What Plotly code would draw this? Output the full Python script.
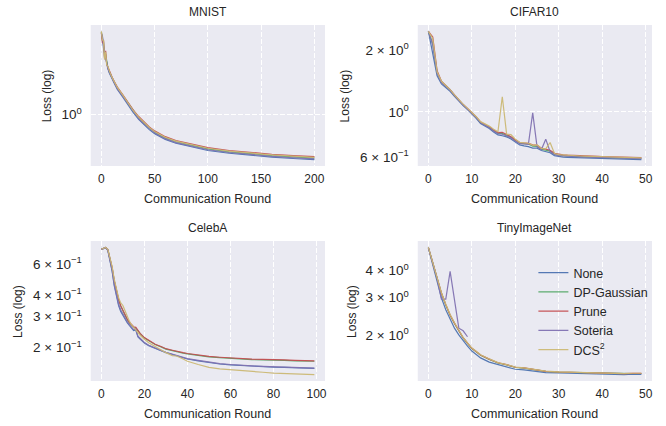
import math
import plotly.graph_objects as go

# ---------------- data ----------------
methods = ["None", "DP-Gaussian", "Prune", "Soteria", "DCS<sup>2</sup>"]
colors = ["#4C72B0", "#55A868", "#C44E52", "#8172B2", "#CCB974"]

# MNIST
mnist_x = [0, 1, 2, 3, 4, 5, 6, 7, 8, 10, 12, 15, 20, 25, 30, 35, 40, 45, 50, 55, 60, 70, 80, 90, 100, 120, 140, 160, 180, 200]
mnist_none = [2.25, 2.20, 1.95, 1.85, 1.75, 1.70, 1.58, 1.54, 1.50, 1.43, 1.37, 1.29, 1.195, 1.10, 1.02, 0.955, 0.904, 0.861, 0.827, 0.801, 0.780, 0.751, 0.732, 0.713, 0.698, 0.679, 0.664, 0.653, 0.644, 0.637]
mnist_dp = [2.30, 2.10, 2.08, 1.78, 1.84, 1.69, 1.61, 1.56, 1.52, 1.45, 1.39, 1.31, 1.215, 1.12, 1.035, 0.97, 0.918, 0.874, 0.840, 0.813, 0.792, 0.762, 0.743, 0.724, 0.709, 0.689, 0.674, 0.663, 0.654, 0.647]
mnist_prune = [2.28, 2.05, 2.12, 1.76, 1.90, 1.66, 1.62, 1.57, 1.53, 1.46, 1.40, 1.32, 1.225, 1.13, 1.047, 0.982, 0.929, 0.884, 0.850, 0.823, 0.802, 0.772, 0.752, 0.733, 0.718, 0.698, 0.683, 0.672, 0.663, 0.656]
mnist_soteria = [2.27, 2.18, 2.00, 1.88, 1.80, 1.72, 1.59, 1.55, 1.51, 1.44, 1.38, 1.30, 1.205, 1.11, 1.028, 0.962, 0.912, 0.868, 0.834, 0.807, 0.786, 0.756, 0.737, 0.718, 0.703, 0.684, 0.669, 0.658, 0.649, 0.642]
mnist_dcs = [2.31, 2.12, 2.10, 1.74, 1.88, 1.65, 1.63, 1.57, 1.53, 1.455, 1.395, 1.315, 1.22, 1.125, 1.041, 0.976, 0.924, 0.879, 0.845, 0.818, 0.797, 0.767, 0.748, 0.729, 0.714, 0.694, 0.679, 0.668, 0.659, 0.652]

# CIFAR10
cifar_x = list(range(50))
cifar_none = [2.47, 1.95, 1.50, 1.37, 1.32, 1.26, 1.19, 1.125, 1.072, 1.025, 0.978, 0.930, 0.878, 0.855, 0.830, 0.798, 0.772, 0.765, 0.755, 0.738, 0.712, 0.690, 0.682, 0.677, 0.665, 0.665, 0.648, 0.642, 0.632, 0.612, 0.605, 0.602, 0.600, 0.599, 0.598, 0.597, 0.596, 0.595, 0.594, 0.593, 0.593, 0.592, 0.591, 0.590, 0.589, 0.588, 0.587, 0.586, 0.586, 0.585]
cifar_dp = [2.47, 2.15, 1.556, 1.40, 1.338, 1.28, 1.204, 1.137, 1.083, 1.035, 0.989, 0.941, 0.889, 0.866, 0.842, 0.810, 0.786, 0.785, 0.768, 0.752, 0.725, 0.703, 0.700, 0.697, 0.680, 0.678, 0.657, 0.652, 0.643, 0.622, 0.614, 0.611, 0.609, 0.607, 0.606, 0.605, 0.604, 0.603, 0.602, 0.601, 0.600, 0.599, 0.598, 0.597, 0.596, 0.596, 0.595, 0.594, 0.594, 0.593]
cifar_prune = [2.47, 2.32, 1.59, 1.41, 1.345, 1.285, 1.21, 1.14, 1.086, 1.038, 0.992, 0.945, 0.893, 0.870, 0.846, 0.815, 0.792, 0.795, 0.775, 0.757, 0.730, 0.708, 0.705, 0.702, 0.690, 0.688, 0.665, 0.658, 0.650, 0.628, 0.620, 0.617, 0.615, 0.613, 0.611, 0.610, 0.609, 0.608, 0.607, 0.606, 0.605, 0.604, 0.603, 0.602, 0.601, 0.600, 0.600, 0.599, 0.598, 0.598]
cifar_soteria = [2.47, 2.12, 1.54, 1.39, 1.335, 1.275, 1.20, 1.134, 1.080, 1.032, 0.986, 0.938, 0.886, 0.862, 0.838, 0.806, 0.782, 0.778, 0.764, 0.748, 0.720, 0.700, 0.698, 0.695, 0.989, 0.675, 0.655, 0.736, 0.640, 0.620, 0.612, 0.609, 0.607, 0.605, 0.604, 0.603, 0.602, 0.601, 0.600, 0.599, 0.598, 0.597, 0.596, 0.596, 0.595, 0.594, 0.594, 0.593, 0.593, 0.592]
cifar_dcs = [2.47, 2.28, 1.57, 1.41, 1.345, 1.285, 1.21, 1.142, 1.088, 1.04, 0.994, 0.947, 0.896, 0.874, 0.852, 0.822, 0.800, 1.186, 0.779, 0.775, 0.735, 0.710, 0.706, 0.703, 0.688, 0.690, 0.663, 0.660, 0.709, 0.626, 0.619, 0.616, 0.614, 0.612, 0.610, 0.609, 0.608, 0.607, 0.606, 0.605, 0.604, 0.603, 0.602, 0.601, 0.600, 0.599, 0.598, 0.598, 0.597, 0.596]

# CelebA
celeba_x = [0, 1, 2, 3, 4, 5, 6, 7, 8, 9, 10, 11, 12, 13, 14, 15, 16, 17, 18, 20, 22, 25, 28, 30, 33, 35, 38, 40, 45, 50, 55, 60, 65, 70, 75, 80, 85, 90, 95, 99]
celeba_none = [0.728, 0.738, 0.745, 0.720, 0.630, 0.545, 0.450, 0.395, 0.347, 0.322, 0.306, 0.292, 0.278, 0.268, 0.259, 0.250, 0.252, 0.230, 0.224, 0.212, 0.205, 0.197, 0.191, 0.187, 0.182, 0.179, 0.175, 0.172, 0.168, 0.164, 0.161, 0.159, 0.1575, 0.156, 0.155, 0.1545, 0.154, 0.153, 0.1525, 0.152]
celeba_dp = [0.730, 0.740, 0.747, 0.727, 0.648, 0.570, 0.480, 0.423, 0.376, 0.345, 0.323, 0.303, 0.289, 0.277, 0.268, 0.261, 0.259, 0.248, 0.240, 0.227, 0.219, 0.208, 0.201, 0.196, 0.192, 0.189, 0.186, 0.184, 0.180, 0.177, 0.175, 0.173, 0.172, 0.1705, 0.170, 0.170, 0.169, 0.168, 0.168, 0.167]
celeba_prune = [0.730, 0.740, 0.747, 0.727, 0.650, 0.572, 0.482, 0.425, 0.378, 0.347, 0.325, 0.305, 0.291, 0.279, 0.270, 0.263, 0.261, 0.250, 0.241, 0.228, 0.220, 0.209, 0.202, 0.197, 0.193, 0.190, 0.187, 0.185, 0.181, 0.178, 0.176, 0.174, 0.173, 0.1715, 0.171, 0.171, 0.170, 0.169, 0.169, 0.168]
celeba_soteria = [0.729, 0.739, 0.746, 0.722, 0.635, 0.552, 0.458, 0.402, 0.355, 0.328, 0.310, 0.295, 0.281, 0.270, 0.261, 0.253, 0.255, 0.232, 0.226, 0.214, 0.206, 0.198, 0.192, 0.188, 0.183, 0.180, 0.176, 0.173, 0.169, 0.165, 0.162, 0.160, 0.158, 0.157, 0.156, 0.155, 0.1545, 0.1535, 0.153, 0.1525]
celeba_dcs = [0.730, 0.741, 0.748, 0.728, 0.655, 0.580, 0.490, 0.430, 0.385, 0.360, 0.348, 0.325, 0.300, 0.283, 0.270, 0.260, 0.252, 0.243, 0.235, 0.223, 0.213, 0.203, 0.193, 0.187, 0.180, 0.179, 0.172, 0.167, 0.160, 0.154, 0.151, 0.149, 0.147, 0.146, 0.1445, 0.143, 0.142, 0.141, 0.1405, 0.140]

# TinyImageNet
tiny_x = [0, 1, 2, 3, 4, 5, 6, 7, 8, 9, 10, 11, 12, 14, 16, 18, 20, 22, 24, 25, 27, 30, 33, 35, 38, 40, 43, 45, 47, 49]
tiny_none = [5.10, 4.25, 3.60, 2.99, 2.63, 2.36, 2.16, 2.01, 1.88, 1.78, 1.69, 1.63, 1.57, 1.50, 1.46, 1.42, 1.39, 1.38, 1.36, 1.35, 1.34, 1.335, 1.33, 1.325, 1.322, 1.32, 1.318, 1.312, 1.318, 1.315]
tiny_dp = [5.13, 4.35, 3.70, 3.14, 2.77, 2.48, 2.27, 2.09, 1.945, 1.835, 1.735, 1.675, 1.615, 1.545, 1.487, 1.457, 1.418, 1.407, 1.388, 1.382, 1.358, 1.348, 1.343, 1.338, 1.333, 1.329, 1.328, 1.324, 1.328, 1.328]
tiny_prune = [5.13, 4.36, 3.71, 3.15, 2.78, 2.49, 2.28, 2.095, 1.95, 1.84, 1.74, 1.68, 1.62, 1.55, 1.49, 1.46, 1.42, 1.41, 1.39, 1.384, 1.36, 1.35, 1.345, 1.34, 1.335, 1.33, 1.33, 1.325, 1.33, 1.33]
tiny_soteria_x = [0, 1, 2, 3, 4, 5, 6, 7, 8, 9]
tiny_soteria = [5.12, 4.33, 3.68, 2.95, 2.95, 3.97, 2.95, 2.16, 2.10, 1.97]
tiny_dcs = [5.14, 4.37, 3.72, 3.16, 2.79, 2.50, 2.29, 2.10, 1.955, 1.845, 1.745, 1.685, 1.625, 1.553, 1.493, 1.462, 1.423, 1.412, 1.392, 1.386, 1.362, 1.352, 1.346, 1.341, 1.336, 1.332, 1.331, 1.327, 1.332, 1.332]

datasets = [
    dict(title="MNIST", xs=[mnist_x] * 5,
         ys=[mnist_none, mnist_dp, mnist_prune, mnist_soteria, mnist_dcs],
         xticks=[0, 50, 100, 150, 200],
         ytickvals=[1], yticktext=["10<sup>0</sup>"], ygrid=True, minor_grid=None),
    dict(title="CIFAR10", xs=[cifar_x] * 5,
         ys=[cifar_none, cifar_dp, cifar_prune, cifar_soteria, cifar_dcs],
         xticks=[0, 10, 20, 30, 40, 50],
         ytickvals=[2, 1, 0.6],
         yticktext=["2 × 10<sup>0</sup>", "10<sup>0</sup>", "6 × 10<sup>−1</sup>"],
         ygrid=False, minor_grid=[1]),
    dict(title="CelebA", xs=[celeba_x] * 5,
         ys=[celeba_none, celeba_dp, celeba_prune, celeba_soteria, celeba_dcs],
         xticks=[0, 20, 40, 60, 80, 100],
         ytickvals=[0.6, 0.4, 0.3, 0.2],
         yticktext=["6 × 10<sup>−1</sup>", "4 × 10<sup>−1</sup>", "3 × 10<sup>−1</sup>", "2 × 10<sup>−1</sup>"],
         ygrid=False, minor_grid=None),
    dict(title="TinyImageNet", xs=[tiny_x, tiny_x, tiny_x, tiny_soteria_x, tiny_x],
         ys=[tiny_none, tiny_dp, tiny_prune, tiny_soteria, tiny_dcs],
         xticks=[0, 10, 20, 30, 40, 50],
         ytickvals=[4, 3, 2],
         yticktext=["4 × 10<sup>0</sup>", "3 × 10<sup>0</sup>", "2 × 10<sup>0</sup>"],
         ygrid=False, minor_grid=None),
]

# ---------------- layout helpers ----------------
W, H = 666, 426
FONT = "Liberation Sans, Arial, sans-serif"
TXT = "#262626"
BG = "#EAEAF2"

# panel boxes in pixels: (left, right, top, bottom)
boxes = [(91, 326, 25, 166), (419, 654, 25, 166), (91, 326, 241, 381), (419, 654, 241, 381)]
ytitle_x = [48, 347, 18, 353]


def px(x):
    return x / W


def py(y):
    return 1 - y / H


def lin_range(xs_list):
    vals = [v for s in xs_list for v in s]
    lo, hi = min(vals), max(vals)
    pad = 0.05 * (hi - lo)
    return [lo - pad, hi + pad]


def log_range(ys_list):
    vals = [math.log10(v) for s in ys_list for v in s]
    lo, hi = min(vals), max(vals)
    pad = 0.05 * (hi - lo)
    return [lo - pad, hi + pad]


fig = go.Figure()
annotations = []
layout_axes = {}

for i, d in enumerate(datasets):
    n = "" if i == 0 else str(i + 1)
    xa, ya = "x" + n, "y" + n
    for j in range(5):
        fig.add_trace(go.Scatter(
            x=d["xs"][j], y=d["ys"][j], mode="lines", name=methods[j],
            line=dict(color=colors[j], width=1.2), opacity=0.95,
            xaxis=xa, yaxis=ya, showlegend=(i == 3), hoverinfo="skip"))
    l, r, t, b = boxes[i]
    grid = dict(gridcolor="white", gridwidth=1.4, griddash="5px,2px")
    layout_axes["xaxis" + n] = dict(
        domain=[px(l), px(r)], anchor=ya, range=lin_range(d["xs"]),
        tickvals=d["xticks"], ticklen=0, showline=False, zeroline=False,
        showgrid=True, ticklabelstandoff=4,
        tickfont=dict(family=FONT, size=12, color=TXT), **grid)
    yax = dict(
        domain=[py(b), py(t)], anchor=xa, type="log", range=log_range(d["ys"]),
        tickmode="array", tickvals=d["ytickvals"], ticktext=d["yticktext"],
        ticklen=0, showline=False, zeroline=False, showgrid=d["ygrid"],
        ticklabelstandoff=8,
        tickfont=dict(family=FONT, size=13.5, color=TXT), **grid)
    if d["minor_grid"]:
        yax["minor"] = dict(tickmode="array", tickvals=d["minor_grid"], showgrid=True,
                            gridcolor="white", gridwidth=1.4, griddash="5px,2px", ticklen=0)
    layout_axes["yaxis" + n] = yax

    cx = (l + r) / 2
    annotations.append(dict(text=d["title"], x=px(cx), y=py(t - 13), xref="paper", yref="paper",
                            showarrow=False, font=dict(family=FONT, size=12, color=TXT),
                            xanchor="center", yanchor="middle"))
    annotations.append(dict(text="Communication Round", x=px(cx), y=py(b + 33), xref="paper",
                            yref="paper", showarrow=False,
                            font=dict(family=FONT, size=12.5, color=TXT),
                            xanchor="center", yanchor="middle"))
    annotations.append(dict(text="Loss (log)", x=px(ytitle_x[i]), y=py((t + b) / 2), xref="paper",
                            yref="paper", showarrow=False, textangle=-90,
                            font=dict(family=FONT, size=12, color=TXT),
                            xanchor="center", yanchor="middle"))

fig.update_layout(
    width=W, height=H, margin=dict(l=0, r=0, t=0, b=0),
    paper_bgcolor="white", plot_bgcolor=BG,
    font=dict(family=FONT, size=12, color=TXT),
    annotations=annotations,
    legend=dict(x=px(535), y=py(258), xanchor="left", yanchor="top",
                bgcolor="rgba(0,0,0,0)", borderwidth=0,
                font=dict(family=FONT, size=12.5, color=TXT), itemwidth=30),
    **layout_axes,
)

fig.write_html("out.html", config={"displayModeBar": False},
               post_script="document.body.style.margin='0';document.body.style.padding='0';")
